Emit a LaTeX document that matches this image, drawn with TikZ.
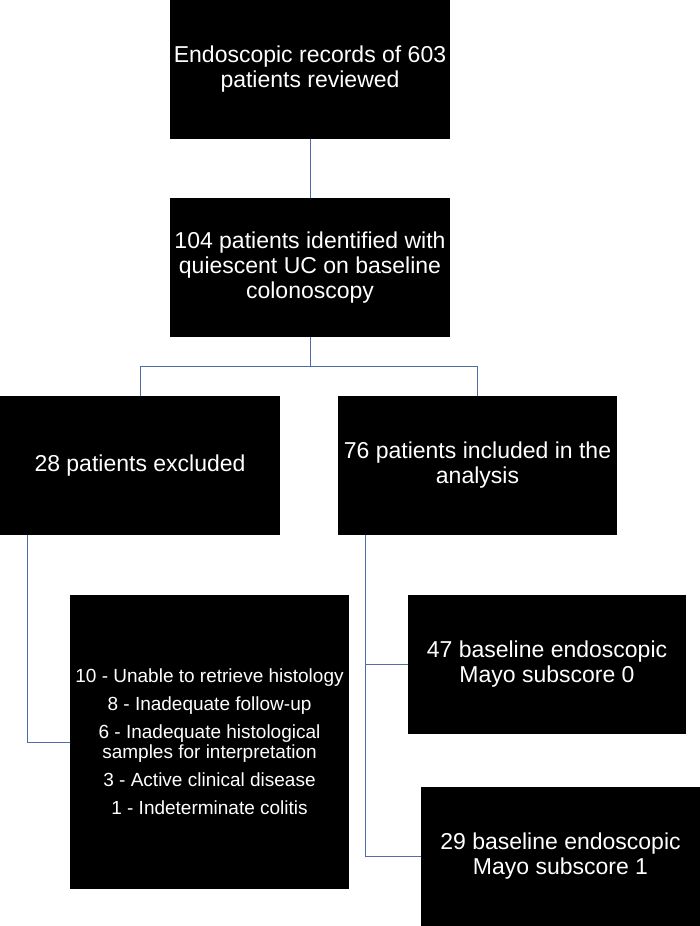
\documentclass[tikz,border=0pt]{standalone}
\usepackage{fontspec}
\setmainfont{Liberation Sans}
\definecolor{linkblue}{RGB}{78,108,168}
\tikzset{
  box/.style={fill=black, text=white, align=center, inner sep=0pt,
    minimum width=280pt, minimum height=139pt,
    font=\fontsize{23}{25}\selectfont},
  link/.style={draw=linkblue, line width=1pt}
}
\begin{document}
\begin{tikzpicture}[x=1pt, y=-1pt]
            \useasboundingbox (0,0) rectangle (700,926);

            % Boxes
            \node[box] (records) at (310,69.5) {Endoscopic records of 603\\patients reviewed};
            \node[box] (quiescent) at (310,267.5) {104 patients identified with\\quiescent UC on baseline\\colonoscopy};
            \node[box] (excluded) at (140,465.5) {28 patients excluded};
            \node[box, minimum width=279pt] (included) at (477.5,465.5) {76 patients included in the\\analysis};
            \node[box, minimum width=279pt, minimum height=294pt, font=\fontsize{19}{20}\selectfont] (reasons) at (209.5,742)
                {10 - Unable to retrieve histology\\[8pt]
                 8 - Inadequate follow-up\\[8pt]
                 6 - Inadequate histological\\samples for interpretation\\[8pt]
                 3 - Active clinical disease\\[8pt]
                 1 - Indeterminate colitis};
            \node[box, minimum width=278pt] (mayozero) at (547,664.5) {47 baseline endoscopic\\Mayo subscore 0};
            \node[box, minimum width=279pt] (mayoone) at (560.5,856.5) {29 baseline endoscopic\\Mayo subscore 1};

            % Connectors
            \coordinate (split) at (310,366.5);
            \draw[link] (records) -- (quiescent);
            \draw[link] (quiescent.south) -- (split);
            \draw[link] (excluded.north) |- (split) -| (included.north);
            \draw[link] ([xshift=28pt]excluded.south west) |- (reasons.west);
            \draw[link] ([xshift=28pt]included.south west) |- (mayozero.west);
            \draw[link] ([xshift=28pt]included.south west) |- (mayoone.west);
        \end{tikzpicture}
\end{document}
